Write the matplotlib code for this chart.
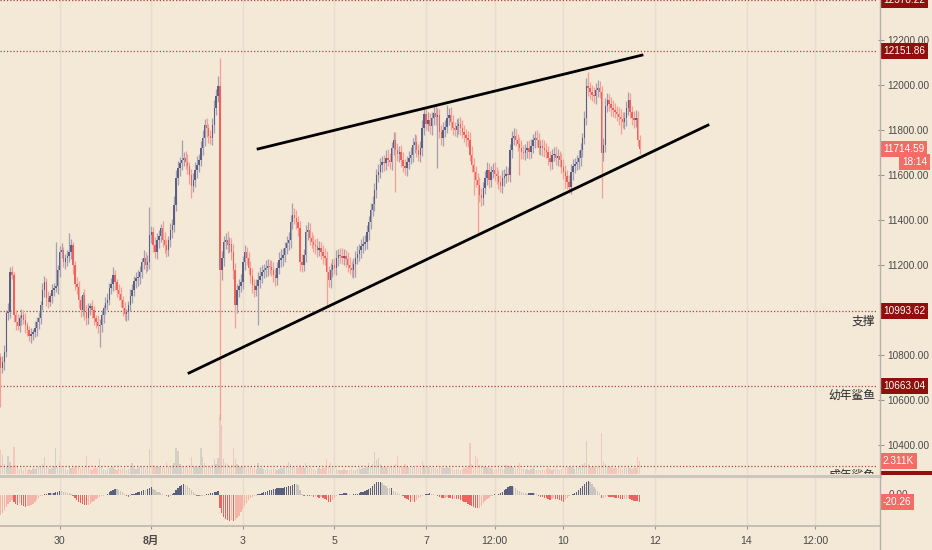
import matplotlib
matplotlib.use("Agg")
import matplotlib.pyplot as plt
from matplotlib.lines import Line2D
from matplotlib.patches import Rectangle
from matplotlib.transforms import blended_transform_factory
import numpy as np

plt.rcParams["font.family"] = ["Liberation Sans", "Noto Sans CJK SC", "DejaVu Sans"]

# hourly closes, BTC/USDT, Jul 28 17:00 -> Aug 11 16:00 (one row per 24 candles)
closes = [
    10742, 10769, 10813, 10987, 10991, 11169, 11156, 10978, 10947, 10929, 10964, 10978, 10956, 10933, 10911, 10884, 10893, 10902, 10920, 10947, 10964, 11022, 11089, 11124,
    11053, 11036, 11062, 11089, 11098, 11107, 11178, 11258, 11267, 11213, 11231, 11240, 11258, 11289, 11200, 11116, 11102, 11044, 11000, 11067, 10991, 10964, 11009, 11018,
    11000, 10964, 10947, 10929, 10933, 10978, 11009, 11031, 11044, 11098, 11116, 11156, 11124, 11089, 11071, 11044, 11009, 10982, 10991, 11022, 11062, 11089, 11129, 11142,
    11147, 11169, 11213, 11231, 11200, 11213, 11333, 11347, 11289, 11258, 11311, 11329, 11364, 11311, 11289, 11267, 11311, 11356, 11378, 11467, 11587, 11631, 11653, 11667,
    11676, 11658, 11640, 11600, 11551, 11578, 11622, 11644, 11667, 11720, 11764, 11822, 11809, 11773, 11764, 11822, 11898, 11951, 11995, 11178, 11231, 11302, 11311, 11289,
    11293, 11258, 11178, 11022, 11089, 11107, 11124, 11213, 11258, 11231, 11187, 11151, 11111, 11089, 11107, 11133, 11151, 11169, 11178, 11187, 11196, 11191, 11178, 11156,
    11142, 11187, 11222, 11231, 11244, 11276, 11298, 11311, 11391, 11422, 11409, 11391, 11364, 11213, 11200, 11244, 11347, 11356, 11320, 11302, 11289, 11284, 11267, 11276,
    11258, 11240, 11231, 11169, 11133, 11178, 11200, 11187, 11231, 11244, 11240, 11231, 11240, 11227, 11200, 11187, 11178, 11204, 11231, 11249, 11267, 11284, 11293, 11302,
    11347, 11391, 11444, 11471, 11533, 11600, 11613, 11644, 11658, 11653, 11676, 11667, 11658, 11720, 11756, 11711, 11693, 11702, 11667, 11640, 11631, 11658, 11676, 11689,
    11733, 11747, 11711, 11689, 11720, 11809, 11871, 11827, 11844, 11818, 11853, 11876, 11858, 11867, 11791, 11764, 11800, 11813, 11853, 11867, 11836, 11809, 11800, 11818,
    11827, 11809, 11791, 11778, 11764, 11756, 11689, 11644, 11613, 11578, 11556, 11511, 11498, 11542, 11587, 11622, 11578, 11613, 11622, 11604, 11596, 11569, 11551, 11587,
    11596, 11604, 11600, 11711, 11764, 11773, 11756, 11738, 11720, 11702, 11698, 11711, 11720, 11702, 11729, 11756, 11764, 11756, 11720, 11729, 11720, 11711, 11702, 11676,
    11658, 11689, 11693, 11676, 11684, 11667, 11636, 11613, 11596, 11569, 11547, 11613, 11640, 11649, 11658, 11676, 11711, 11764, 11853, 11995, 11987, 11969, 11956, 11951,
    11978, 11987, 11969, 11698, 11733, 11907, 11933, 11916, 11898, 11889, 11880, 11871, 11858, 11849, 11836, 11853, 11898, 11933, 11880, 11853, 11844, 11853, 11756, 11714.59,
]
first_open = 10790

upper_wick = [
    20, 25, 30, 15, 40, 20, 25, 15, 20, 35, 15, 25, 20, 30, 15, 20, 25, 15, 30, 20, 25, 20, 30, 25,
    20, 30, 15, 25, 20, 30, 20, 25, 30, 15, 20, 25, 30, 25, 15, 20, 30, 25, 20, 15, 25, 30, 20, 15,
    25, 20, 15, 30, 25, 20, 15, 25, 30, 20, 25, 35, 20, 15, 25, 30, 20, 25, 15, 20, 30, 25, 20, 25,
    30, 25, 20, 35, 25, 30, 40, 25, 20, 35, 30, 25, 20, 30, 35, 25, 20, 30, 25, 40, 35, 30, 25, 30,
    25, 30, 35, 20, 25, 30, 35, 40, 25, 30, 35, 25, 30, 20, 25, 30, 35, 30, 45, 35, 30, 25, 30, 40,
    30, 25, 35, 30, 25, 30, 35, 25, 30, 20, 25, 30, 35, 25, 30, 35, 40, 30, 25, 35, 30, 25, 30, 35,
    30, 25, 35, 40, 30, 25, 30, 35, 30, 25, 30, 35, 25, 30, 35, 25, 30, 35, 30, 25, 30, 25, 35, 30,
    25, 30, 35, 30, 25, 30, 25, 30, 35, 25, 30, 35, 30, 25, 30, 35, 30, 25, 30, 35, 25, 30, 35, 30,
    30, 25, 30, 35, 30, 25, 35, 30, 25, 30, 35, 40, 30, 25, 30, 35, 30, 25, 30, 35, 30, 25, 30, 35,
    30, 35, 30, 25, 30, 35, 30, 25, 35, 30, 25, 30, 35, 30, 25, 30, 35, 30, 25, 30, 35, 30, 25, 30,
    25, 30, 35, 30, 25, 30, 35, 40, 30, 25, 30, 35, 30, 25, 30, 35, 30, 25, 30, 35, 30, 25, 30, 35,
    30, 35, 30, 25, 30, 35, 30, 25, 30, 35, 30, 25, 30, 35, 30, 25, 30, 35, 30, 25, 30, 35, 30, 25,
    30, 25, 30, 35, 30, 25, 30, 35, 30, 25, 30, 35, 30, 25, 30, 35, 30, 25, 30, 35, 30, 25, 30, 35,
    30, 35, 30, 25, 30, 35, 30, 25, 30, 35, 30, 25, 30, 35, 30, 25, 30, 35, 30, 25, 30, 35, 30, 20,
]
lower_wick = [
    25, 20, 35, 20, 30, 25, 20, 30, 35, 20, 25, 30, 20, 35, 25, 20, 30, 25, 20, 35, 30, 25, 20, 30,
    35, 25, 20, 30, 25, 20, 35, 30, 25, 20, 30, 35, 25, 30, 40, 25, 30, 35, 30, 25, 35, 30, 25, 30,
    35, 30, 25, 30, 25, 30, 35, 25, 30, 20, 25, 30, 35, 30, 25, 30, 35, 25, 30, 35, 25, 30, 25, 30,
    35, 30, 25, 30, 35, 25, 30, 35, 30, 25, 30, 35, 25, 30, 35, 30, 25, 30, 35, 30, 25, 30, 35, 30,
    25, 30, 35, 40, 30, 25, 30, 35, 30, 25, 30, 35, 40, 30, 25, 30, 35, 30, 25, 30, 45, 35, 30, 35,
    30, 35, 40, 30, 35, 30, 25, 30, 35, 30, 25, 30, 35, 30, 25, 30, 35, 30, 25, 30, 35, 30, 25, 30,
    35, 30, 25, 30, 35, 30, 25, 30, 35, 30, 25, 30, 35, 40, 30, 25, 30, 35, 30, 25, 30, 35, 30, 25,
    30, 35, 30, 25, 30, 35, 30, 25, 30, 35, 30, 25, 30, 35, 30, 25, 30, 35, 30, 25, 30, 35, 30, 25,
    30, 35, 30, 25, 30, 35, 30, 25, 30, 35, 30, 25, 30, 35, 30, 25, 30, 35, 30, 25, 30, 35, 30, 25,
    30, 35, 30, 25, 30, 35, 30, 25, 30, 35, 40, 30, 35, 30, 25, 30, 35, 30, 25, 30, 35, 30, 25, 30,
    35, 30, 25, 30, 35, 30, 25, 30, 35, 30, 25, 30, 35, 30, 25, 30, 35, 30, 25, 30, 35, 30, 25, 30,
    35, 30, 25, 30, 35, 30, 25, 30, 35, 30, 25, 30, 35, 30, 25, 30, 35, 30, 25, 30, 35, 30, 25, 30,
    35, 30, 25, 30, 35, 30, 25, 30, 35, 30, 25, 30, 35, 30, 25, 30, 35, 30, 25, 30, 35, 30, 25, 30,
    35, 30, 25, 30, 35, 30, 25, 30, 35, 30, 25, 30, 35, 30, 25, 30, 35, 30, 25, 30, 35, 30, 25, 20,
]
# wicks that stand out on the chart (candle index -> price)
high_marks = {29: 11302, 36: 11342, 78: 11458, 95: 11756, 115: 12120, 153: 11476,
              206: 11791, 234: 11911, 308: 12058, 315: 11995}
low_marks = {0: 10569, 52: 10836, 100: 11498, 115: 10511, 123: 10920, 135: 10933,
             171: 11013, 186: 11147, 207: 11524, 229: 11631, 248: 11511, 250: 11342,
             272: 11600, 296: 11542, 315: 11498, 325: 11782}

volumes = [
    4270, 3380, 1800, 1500, 3200, 2100, 1400, 4800, 1600, 1200, 900, 1100, 800, 1000, 700, 900, 800, 1100, 900, 1000, 1300, 1500, 1700, 3030,
    1200, 1000, 900, 1100, 1400, 4630, 1300, 2140, 1500, 1000, 900, 800, 1200, 1100, 1000, 1300, 1400, 1200, 1100, 1000, 1300, 3200, 1200, 900,
    800, 1000, 1100, 1300, 2670, 1200, 900, 800, 900, 1100, 1000, 1200, 900, 800, 1000, 900, 1100, 1000, 800, 900, 1000, 1960, 1100, 900,
    1000, 1200, 1500, 1300, 1000, 1400, 4450, 4630, 1600, 1200, 1500, 1300, 1400, 1200, 1100, 2140, 1300, 1400, 1600, 2000, 4630, 4090, 1800, 1500,
    1300, 1200, 1400, 1600, 3030, 1500, 1300, 1200, 1400, 4630, 3030, 1900, 1500, 1400, 1300, 1600, 2670, 1800, 2850, 10500, 8720, 2600, 1900, 1700,
    1500, 1600, 4630, 2670, 1800, 1500, 1300, 1400, 1200, 1100, 1000, 1200, 1100, 1000, 900, 1960, 1100, 1000, 900, 800, 900, 800, 900, 1000,
    900, 800, 900, 1100, 1000, 1200, 1300, 2140, 1700, 1500, 1200, 1100, 1000, 1600, 1200, 1000, 1960, 1300, 1100, 1000, 900, 800, 900, 1000,
    900, 1000, 1100, 2670, 1300, 1960, 1100, 1000, 900, 800, 700, 800, 900, 800, 700, 800, 900, 800, 700, 900, 1000, 900, 1000, 1100,
    1300, 1960, 1500, 1700, 3920, 2490, 2850, 1800, 1500, 1300, 1200, 1100, 1300, 1400, 1500, 1700, 3200, 1500, 1300, 1200, 1780, 1300, 1200, 1100,
    1200, 1300, 1100, 1000, 1100, 2140, 1600, 1400, 1200, 1100, 1000, 1100, 1000, 900, 1200, 1300, 1100, 1000, 1200, 1100, 1000, 900, 800, 900,
    900, 800, 900, 1000, 1100, 1300, 5520, 1800, 1500, 3200, 2850, 1600, 1500, 1400, 1300, 1200, 1100, 1000, 900, 800, 900, 1000, 1100, 900,
    900, 1600, 1200, 1500, 1300, 1100, 1000, 900, 1960, 1000, 900, 800, 900, 800, 900, 1000, 900, 800, 700, 800, 900, 800, 900, 1000,
    900, 800, 900, 1000, 900, 800, 900, 1000, 1200, 1100, 1300, 1200, 1000, 900, 1100, 1200, 1400, 1780, 1900, 5870, 1780, 1500, 1300, 1200,
    1100, 1200, 1500, 7300, 2140, 1700, 1400, 1300, 1200, 1100, 1000, 1100, 1200, 1000, 900, 1000, 1100, 1200, 1000, 900, 1000, 1100, 3030, 2311,
]

macd_hist = [
    -60, -55, -45, -35, -28, -22, -15, -22, -28, -30, -25, -30, -32, -35, -34, -33, -30, -28, -20, -14, -8, -4, -2, 2,
    3, 5, 6, 5, 7, 8, 10, 13, 12, 10, 9, 7, 5, 2, -3, -8, -14, -20, -25, -28, -30, -31, -30, -26,
    -22, -18, -13, -8, -5, -3, -2, 1, 3, 8, 12, 15, 18, 17, 16, 12, 8, 3, -2, -5, -3, 2, 4, 6,
    8, 10, 12, 15, 14, 18, 20, 23, 18, 14, 10, 8, 5, 3, 1, -3, -5, -2, 2, 6, 14, 22, 28, 31,
    33, 30, 26, 20, 14, 8, 4, -2, -4, -4, -3, -2, 2, 3, 5, 6, 8, 10, 12, -40, -55, -65, -72, -76,
    -77, -75, -77, -76, -70, -62, -52, -42, -32, -24, -16, -8, -5, -3, -2, 2, 4, 6, 8, 10, 12, 14, 16, 18,
    19, 20, 21, 22, 22, 23, 25, 26, 28, 31, 33, 32, 30, 14, 4, -2, 1, -2, -3, -3, -5, -4, -6, -8,
    -7, -10, -13, -16, -20, -22, -14, -8, -4, 1, 2, 3, 5, 5, 3, 2, 1, 2, 2, 4, 6, 8, 10, 11,
    14, 18, 22, 26, 32, 38, 40, 40, 36, 30, 26, 22, 20, 21, 12, 8, 5, 3, 1, -4, -8, -12, -16, -20,
    -18, -20, -15, -10, -6, -3, 1, 3, 4, 5, 4, 3, 1, -2, -6, -9, -10, -8, -7, -8, -10, -12, -11, -12,
    -13, -15, -18, -20, -22, -26, -30, -33, -36, -38, -40, -38, -32, -25, -18, -12, -8, -4, -2, 2, 1, 3, 6, 10,
    14, 19, 24, 27, 28, 25, 20, 15, 12, 9, 7, 5, 4, 5, 6, 6, 5, 2, -3, -5, -6, -8, -10, -12,
    -14, -11, -10, -12, -13, -15, -18, -20, -14, -8, -4, -1, 3, 6, 10, 15, 20, 26, 32, 38, 42, 38, 32, 25,
    18, 12, 5, -10, -8, -5, -4, -5, -6, -7, -8, -9, -10, -11, -12, -12, -11, -10, -12, -15, -17, -18, -19, -20.26,
]

# time axis: hours counted from the first candle
tick_hours = [31, 79, 127, 175, 223, 259, 295, 343, 391, 427]
tick_labels = ["30", "8月", "3", "5", "7", "12:00", "10", "12", "14", "12:00"]
price_ticks = [10400, 10600, 10800, 11200, 11400, 11600, 11800, 12000, 12200]

level_prices = [12378.22, 12151.86, 10993.62, 10663.04, 10307.0]
level_names = ["", "", "支撑", "幼年鲨鱼", "成年鲨鱼"]

wedge_top = ([135.0, 336.2], [11716, 12133])
wedge_bottom = ([98.8, 370.8], [10720, 11822])

BG = "#f4e8d6"
UP, DOWN = "#5b5f83", "#f0605c"
UP_WICK, DOWN_WICK = "#a3a0b4", "#f4a097"
LEVEL = "#b0463f"
TAG_DARK, TAG_LIGHT = "#8e0f0c", "#f36d66"
GRID = "#e8ddcc"
FS = 7.2
W, H = 932, 550

fig = plt.figure(figsize=(W / 100, H / 100), dpi=100)
fig.patch.set_facecolor(BG)


def px_axes(x0, y0, x1, y1):
    return fig.add_axes([x0 / W, 1 - y1 / H, (x1 - x0) / W, (y1 - y0) / H])


axv = px_axes(0, 0, 878, 474)
ax = px_axes(0, 0, 878, 474)
osc = px_axes(0, 477, 878, 525)

idx = np.arange(len(closes))
closes = np.array(closes, dtype=float)
opens = np.r_[first_open, closes[:-1]]
rising = closes >= opens
highs = np.maximum(opens, closes) + np.array(upper_wick)
lows = np.minimum(opens, closes) - np.array(lower_wick)
for k, v in high_marks.items():
    highs[k] = v
for k, v in low_marks.items():
    lows[k] = v

xlim = (-0.26, 459.9)
for a in (axv, ax, osc):
    a.set_xlim(*xlim)
    a.patch.set_visible(False)
    for s in a.spines.values():
        s.set_visible(False)

# volume
axv.set_ylim(0, 84400)
axv.bar(idx, volumes, width=0.7, color=np.where(rising, "#d6cfc6", "#f7c6ba"), zorder=1)
axv.set_xticks([])
axv.set_yticks([])

# main pane
ax.set_ylim(10271, 12378)
for t in tick_hours:
    ax.axvline(t, color=GRID, lw=1, zorder=0)
for p in level_prices:
    ax.axhline(p, color=LEVEL, lw=0.9, ls=(0, (1, 1.6)), zorder=1)
ax.vlines(idx, lows, highs, colors=np.where(rising, UP_WICK, DOWN_WICK), lw=0.9, zorder=2)
body = np.maximum(np.abs(closes - opens), 3)
ax.bar(idx, body, bottom=np.minimum(opens, closes), width=0.72,
       color=np.where(rising, UP, DOWN), zorder=3)
ax.plot(*wedge_top, color="black", lw=2, zorder=4)
ax.plot(*wedge_bottom, color="black", lw=2, zorder=4)

for p, name in zip(level_prices, level_names):
    if name:
        ax.annotate(name, xy=(1, p), xycoords=("axes fraction", "data"), xytext=(-2, -3),
                    textcoords="offset points", ha="right", va="top", fontsize=8.5,
                    color="#2b2b2b", annotation_clip=False, clip_on=True)

ax.set_xticks([])
ax.set_yticks(price_ticks)
ax.set_yticklabels([f"{p:.2f}" for p in price_ticks])
ax.tick_params(axis="y", left=False, labelleft=False, right=True, labelright=True,
               length=4, width=0.8, color="#9b958c", labelsize=FS, labelcolor="#4a4a4a", pad=3)

ytr = ax.get_yaxis_transform()


def tag(axis_tr, y, text, bg, x=1.0055, ha="left"):
    ax.text(x, y, text, transform=axis_tr, ha=ha, va="center", fontsize=FS, color="white",
            bbox=dict(boxstyle="square,pad=0.3", fc=bg, ec="none"), clip_on=False, zorder=10)


for p in level_prices[:-1]:
    tag(ytr, p, f"{p:.2f}", TAG_DARK)
tag(ytr, closes[-1], f"{closes[-1]:.2f}", TAG_LIGHT)
tag(ytr, 11658, "18:14", TAG_LIGHT, x=927 / 878, ha="right")
tag(blended_transform_factory(ax.transAxes, axv.transData), volumes[-1], "2.311K", TAG_LIGHT)
# tag of the lowest level, hidden under the pane border except its lower edge
fig.add_artist(Rectangle((880 / W, 1 - 474.5 / H), 52 / W, 4 / H, transform=fig.transFigure,
                         fc=TAG_DARK, ec="none"))

# oscillator pane
osc.set_ylim(-90, 54)
for t in tick_hours:
    osc.axvline(t, color=GRID, lw=1, zorder=0)
hist = np.array(macd_hist, dtype=float)
prev = np.r_[hist[0], hist[:-1]]
hist_colors = np.where(hist >= 0, np.where(hist >= prev, "#5b5f7e", "#cbc4bc"),
                       np.where(hist < prev, "#f0625d", "#f6b4a9"))
osc.bar(idx, hist, width=0.7, color=hist_colors, zorder=2)
osc.set_yticks([])
osc.set_xticks(tick_hours)
osc.set_xticklabels(tick_labels)
for lab, txt in zip(osc.get_xticklabels(), tick_labels):
    if txt == "8月":
        lab.set_fontweight("bold")
osc.tick_params(axis="x", length=3, width=0.8, color="#9b958c", labelsize=7.6,
                labelcolor="#4a4a4a", pad=5)
otr = osc.get_yaxis_transform()
osc.text(1.012, 0, "0.00", transform=otr, ha="left", va="center", fontsize=FS,
         color="#4a4a4a", clip_on=False)
osc.text(1.0055, macd_hist[-1], f"{macd_hist[-1]:.2f}", transform=otr, ha="left", va="center",
         fontsize=FS, color="white", bbox=dict(boxstyle="square,pad=0.3", fc=TAG_LIGHT, ec="none"),
         clip_on=False, zorder=10)

# pane separators and axis lines
fig.add_artist(Line2D([0, 880 / W], [1 - 475.5 / H] * 2, transform=fig.transFigure, color="#cdc6bd", lw=2.2))
fig.add_artist(Line2D([0, 880 / W], [1 - 525.5 / H] * 2, transform=fig.transFigure, color="#bdb6ac", lw=1.2))
fig.add_artist(Line2D([879.5 / W] * 2, [0, 1], transform=fig.transFigure, color="#b8b1a7", lw=1))

fig.savefig("out.png", dpi=100, facecolor=BG)
